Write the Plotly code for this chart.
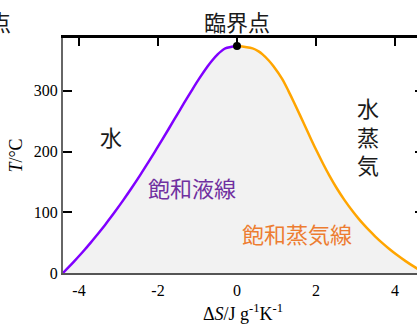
import plotly.graph_objects as go

# Saturation temperature (°C)
temp_c = [0.01, 10, 20, 30, 40, 50, 60, 70, 80, 90, 100, 120, 140, 160, 180,
          200, 220, 240, 260, 280, 300, 320, 340, 350, 360, 365, 370, 373.95]
# ΔS of saturated liquid (J g^-1 K^-1, relative to critical point)
ds_liquid = [-4.407, -4.256, -4.111, -3.970, -3.835, -3.703, -3.576, -3.452, -3.331,
             -3.214, -3.100, -2.879, -2.668, -2.464, -2.268, -2.077, -1.889, -1.705,
             -1.522, -1.339, -1.152, -0.958, -0.747, -0.629, -0.490, -0.405, -0.296, 0.0]
# ΔS of saturated vapour
ds_vapor = [4.749, 4.493, 4.259, 4.045, 3.849, 3.668, 3.502, 3.348, 3.205, 3.072,
            2.948, 2.722, 2.522, 2.343, 2.179, 2.025, 1.878, 1.736, 1.594, 1.450,
            1.301, 1.139, 0.929, 0.804, 0.647, 0.548, 0.394, 0.0]
critical_point = (0.0, 373.95)

x_ticks = [-4, -2, 0, 2, 4]
y_ticks = [0, 100, 200, 300]
x_range = [-4.405, 4.709]
y_range = [0, 387]

CJK = "Noto Sans CJK JP"
SERIF = "Liberation Serif"

fig = go.Figure()

# grey dome fill
fig.add_trace(go.Scatter(
    x=ds_liquid + ds_vapor[::-1], y=temp_c + temp_c[::-1],
    mode="lines", line=dict(width=0, shape="spline"), fill="toself",
    fillcolor="#f2f2f2", hoverinfo="skip", showlegend=False))
fig.add_trace(go.Scatter(x=ds_liquid, y=temp_c, mode="lines",
                         line=dict(color="#8000ff", width=2.5, shape="spline"),
                         showlegend=False))
fig.add_trace(go.Scatter(x=ds_vapor, y=temp_c, mode="lines",
                         line=dict(color="#ffa500", width=2.5, shape="spline"),
                         showlegend=False))
fig.add_trace(go.Scatter(x=[critical_point[0]], y=[critical_point[1]], mode="markers",
                         marker=dict(color="black", size=8), cliponaxis=False,
                         showlegend=False))
# helper trace for mirrored axes
fig.add_trace(go.Scatter(x=[0], y=[0], xaxis="x2", yaxis="y2", mode="markers",
                         marker=dict(opacity=0), hoverinfo="skip", showlegend=False))

fig.update_layout(
    width=426, height=324,
    margin=dict(l=63, r=3, t=38, b=51),
    paper_bgcolor="white", plot_bgcolor="white",
    xaxis=dict(range=x_range, tickvals=x_ticks, ticktext=[str(v) for v in x_ticks],
               showline=True, linecolor="#555555", linewidth=2, ticks="",
               showgrid=False, zeroline=False,
               tickfont=dict(family=SERIF, size=16, color="black"),
               ticklabelstandoff=2,
               title=dict(text="Δ<i>S</i>/J g<sup>-1</sup>K<sup>-1</sup>",
                          font=dict(family=SERIF, size=18, color="black"), standoff=9)),
    xaxis2=dict(range=x_range, overlaying="x", side="top", anchor="y",
                tickvals=x_ticks, showticklabels=False, showline=True,
                linecolor="black", linewidth=2.5, ticks="inside", ticklen=8,
                tickwidth=2, tickcolor="black", showgrid=False, zeroline=False),
    yaxis=dict(range=y_range, tickvals=y_ticks, showline=True, linecolor="#666666",
               linewidth=2, ticks="inside", ticklen=9, tickwidth=2, tickcolor="black",
               showgrid=False, zeroline=False,
               tickfont=dict(family=SERIF, size=16, color="black"),
               title=dict(text="<i>T</i>/°C",
                          font=dict(family=SERIF, size=18, color="black"), standoff=6)),
    yaxis2=dict(range=y_range, overlaying="y", side="right", anchor="x",
                tickvals=y_ticks, showticklabels=False, showline=True,
                linecolor="black", linewidth=2, ticks="inside", ticklen=8,
                tickwidth=2, tickcolor="black", showgrid=False, zeroline=False),
)

def note(text, x, y, color="#1a1a1a", xref="x", yref="y", xanchor="center", size=22):
    fig.add_annotation(text=text, x=x, y=y, xref=xref, yref=yref, showarrow=False,
                       xanchor=xanchor, yanchor="middle",
                       font=dict(family=CJK, size=size, color=color))

note("臨界点", 0.0, 1.072, yref="paper")
note("三重点", -0.14, 1.072, xref="paper", yref="paper", xanchor="right")
note("水", -3.19, 226)
note("水<br>蒸<br>気", 3.32, 226)
note("飽和液線", -1.14, 142, color="#7030a0")
note("飽和蒸気線", 1.52, 66, color="#ed7d31")

fig.write_html("out.html", config={"displayModeBar": False},
               post_script="document.body.style.margin='0';"
                           "document.body.style.overflow='hidden';")
